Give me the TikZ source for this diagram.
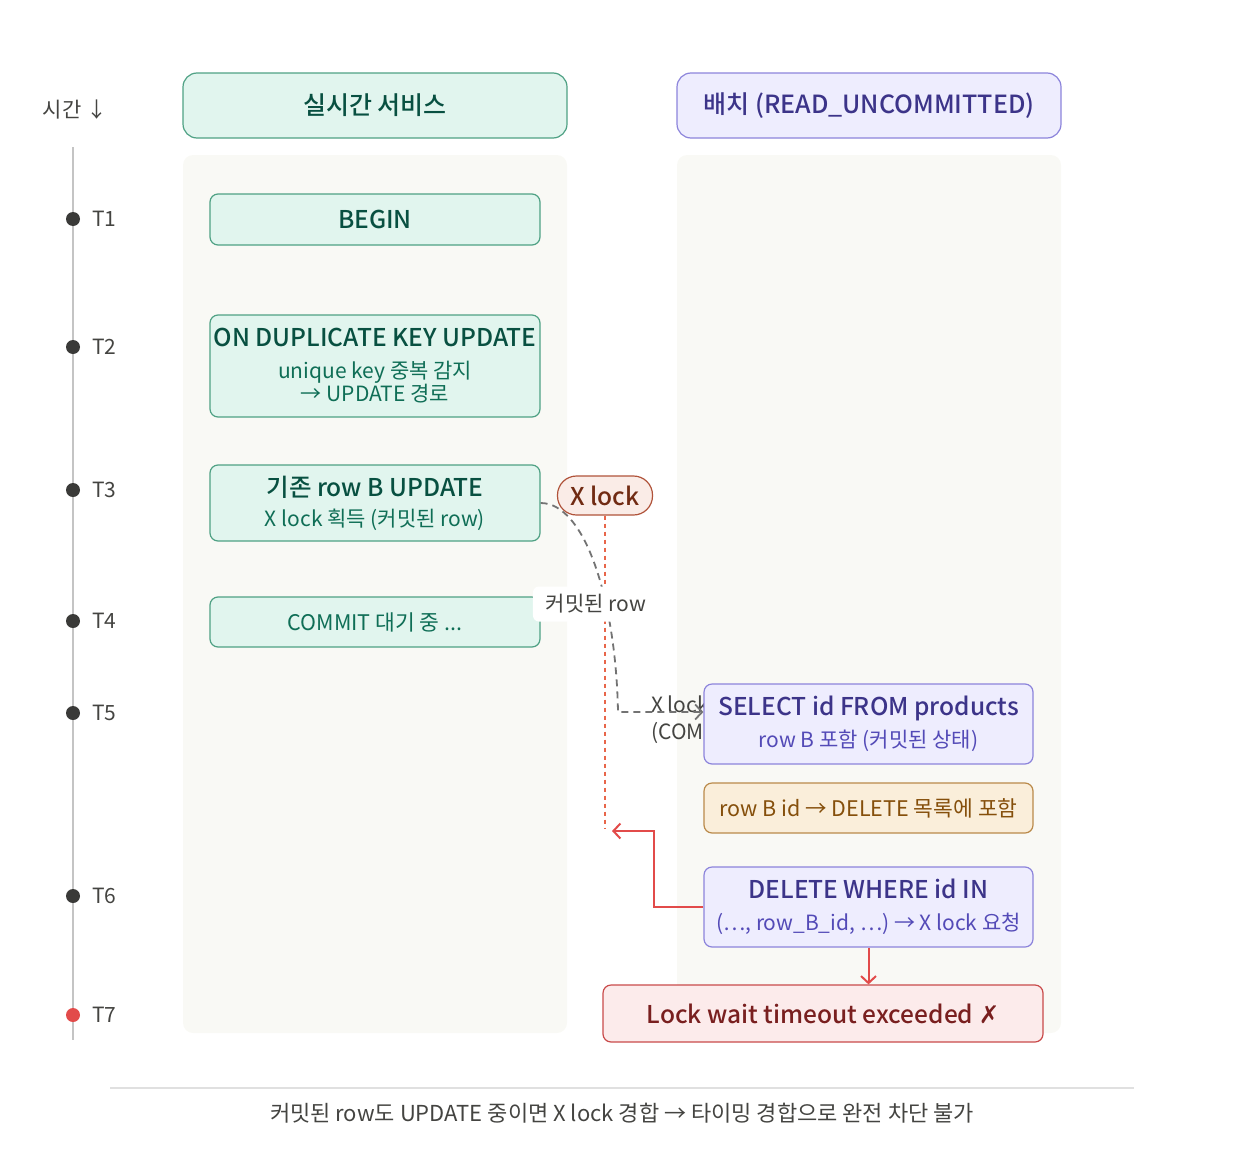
\documentclass[tikz,border=0pt]{standalone}
\usepackage{fontspec}
\setmainfont{Noto Sans CJK KR}[BoldFont={Noto Sans CJK KR Medium}]
\newfontfamily\symfont{DejaVu Sans}
\usetikzlibrary{arrows.meta, positioning}

\definecolor{lanebg}{HTML}{F9F9F5}
\definecolor{grnfill}{HTML}{E1F5EE}
\definecolor{grnline}{HTML}{4FA184}
\definecolor{grndark}{HTML}{085041}
\definecolor{grntext}{HTML}{0F6E56}
\definecolor{purfill}{HTML}{EEEDFE}
\definecolor{purline}{HTML}{8C84DB}
\definecolor{purdark}{HTML}{3C3489}
\definecolor{purtext}{HTML}{534AB7}
\definecolor{orgfill}{HTML}{FAEEDA}
\definecolor{orgline}{HTML}{BA8A4A}
\definecolor{orgtext}{HTML}{854F0B}
\definecolor{lockfill}{HTML}{FAECE7}
\definecolor{lockline}{HTML}{B0533A}
\definecolor{locktext}{HTML}{712B13}
\definecolor{errfill}{HTML}{FCEBEB}
\definecolor{errline}{HTML}{C94A4A}
\definecolor{errtext}{HTML}{791F1F}
\definecolor{redarr}{HTML}{E24B4A}
\definecolor{reddot}{HTML}{E8664A}
\definecolor{tlgrey}{HTML}{C4C4C4}
\definecolor{dotdark}{HTML}{3A3A38}
\definecolor{txtgrey}{HTML}{444441}

\newcommand{\ttlfont}{\fontsize{24.5}{29}\selectfont\bfseries}
\newcommand{\subfont}{\fontsize{21}{23}\selectfont}

\begin{document}
\begin{tikzpicture}[x=1pt, y=-1pt, >={Straight Barb[length=7pt,width=15pt]},
  lane/.style={fill=lanebg, rounded corners=10pt},
  headbox/.style={rounded corners=14pt, line width=1.2pt, minimum width=384pt, minimum height=65pt, font=\fontsize{25}{28}\selectfont\bfseries},
  stepbox/.style={rounded corners=8pt, line width=1.2pt, minimum width=330pt, inner sep=1pt, align=center, font=\subfont},
  grn/.style={stepbox, draw=grnline, fill=grnfill, text=grntext},
  pur/.style={stepbox, draw=purline, fill=purfill, text=purtext, minimum width=329pt},
  dot/.style={circle, fill=dotdark, minimum size=14pt, inner sep=0pt},
  tlab/.style={anchor=west, inner sep=0pt, text=txtgrey, font=\subfont},
  dashline/.style={draw=black!55, line width=1.8pt, dash pattern=on 7pt off 5pt},
  redline/.style={draw=redarr, line width=2pt}]

\useasboundingbox (0,0) rectangle (1244,1148);

% lanes
\fill[lane] (183,155) rectangle (567,1033);
\fill[lane] (677,155) rectangle (1061,1033);

% headers
\node[headbox, draw=grnline, fill=grnfill, text=grndark] (hsvc) at (375,105.5) {실시간 서비스};
\node[headbox, draw=purline, fill=purfill, text=purdark] (hbat) at (869,105.5) {배치 (READ\_UNCOMMITTED)};

% timeline
\node[text=txtgrey, font=\subfont] (tlhead) at (75,110) {시간 ↓};
\draw[tlgrey, line width=2.5pt] (73,147) -- (73,1040);
\foreach \yy/\tn in {219/T1, 347/T2, 490/T3, 621/T4, 713/T5, 896/T6} {
  \node[dot] (dot\tn) at (73,\yy) {};
  \node[tlab] (lab\tn) at (92,\yy) {\tn};
}
\node[dot, fill=redarr] (dotT7) at (73,1015) {};
\node[tlab] (labT7) at (92,1015) {T7};

% live service
\node[grn, minimum height=51pt, text=grndark, font=\ttlfont] (begin) at (375,219.5) {BEGIN};
\node[grn, minimum height=102pt] (dup) at (375,366) {{\ttlfont\color{grndark}ON DUPLICATE KEY UPDATE}\\[9pt]unique key 중복 감지\\→ UPDATE 경로};
\node[grn, minimum height=76pt] (upd) at (375,503) {{\ttlfont\color{grndark}기존 row B UPDATE}\\[7pt]X lock 획득 (커밋된 row)};
\node[grn, minimum height=50pt, font=\fontsize{21.5}{24}\selectfont] (cmt) at (375,622) {COMMIT 대기 중 ...};

% lock
\node[draw=lockline, fill=lockfill, text=locktext, line width=1.2pt, rounded corners=19pt, minimum width=95pt, minimum height=39pt, inner sep=0pt, font=\ttlfont] (xlock) at (605,495.5) {X lock};
\coordinate (dotend) at (605,828);
\draw[reddot, line width=2pt, dash pattern=on 4pt off 4pt] (xlock.south) -- (dotend);

\node[anchor=north west, align=left, inner sep=0pt, text=txtgrey, font=\fontsize{21}{27}\selectfont] (xlk) at (651,696) {X lock\\(COM};

% batch
\node[pur, minimum height=80pt] (sel) at (868.5,724) {{\ttlfont\color{purdark}SELECT id FROM products}\\[9pt]row B 포함 (커밋된 상태)};
\node[stepbox, draw=orgline, fill=orgfill, text=orgtext, minimum width=329pt, minimum height=50pt, font=\fontsize{21.5}{24}\selectfont] (ids) at (868.5,808) {row B id → DELETE 목록에 포함};
\node[pur, minimum height=80pt] (del) at (868.5,907) {{\ttlfont\color{purdark}DELETE WHERE id IN}\\[9pt](…, row\_B\_id, …) → X lock 요청};
\node[stepbox, draw=errline, fill=errfill, text=errtext, minimum width=440pt, minimum height=57pt, font=\ttlfont] (tout) at (823,1013.5) {Lock wait timeout exceeded {\symfont\mdseries ✗}};

% connectors
\coordinate (bend) at (618,712);
\draw[dashline, ->] (upd.east) .. controls +(45,0) and +(-2,-110) .. (bend) -- ([yshift=12pt]sel.west);
\node[fill=white, rounded corners=6pt, inner xsep=13pt, inner ysep=8pt, text=txtgrey, font=\subfont] (lblrow) at (596,604) {커밋된 row};

\coordinate (waitpt) at (612,831);
\draw[redline, ->] (del.west) -- ++(-49,0) |- (waitpt);
\draw[redline, ->] (del.south) -- (del.south |- tout.north);

% caption
\draw[black!12, line width=1.2pt] (110,1088) -- (1134,1088);
\node[text=txtgrey, font=\fontsize{22}{26}\selectfont] (cap) at (622,1113) {커밋된 row도 UPDATE 중이면 X lock 경합 → 타이밍 경합으로 완전 차단 불가};
\end{tikzpicture}
\end{document}
